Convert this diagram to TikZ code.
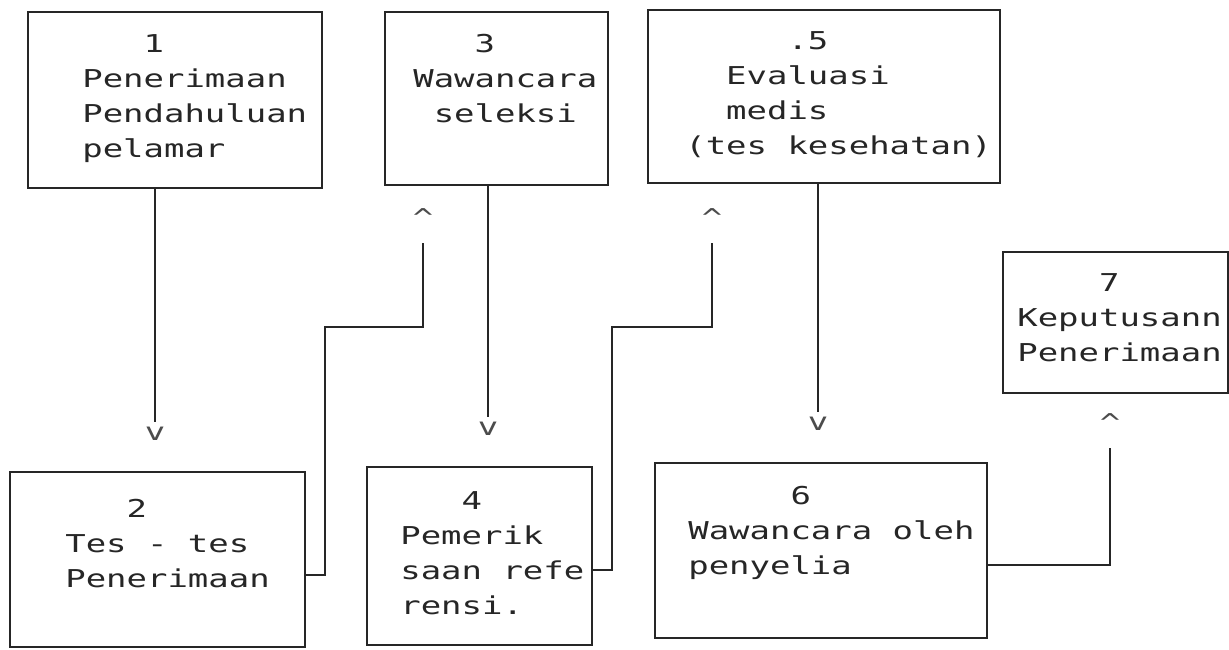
\documentclass[tikz,border=0pt]{standalone}
\usepackage{fontspec}
\usepackage{tikz}
\usetikzlibrary{positioning}
\newfontfamily\dotfont[FakeStretch=1.38]{DejaVu Sans Mono}

\begin{document}
\begin{tikzpicture}[
  box/.style={rectangle,draw=black!85,line width=1.2pt,inner sep=0pt},
  txt/.style={anchor=north west,inner sep=0pt,align=left,text=black!85,
    font=\dotfont\fontsize{14}{19.9}\selectfont},
  tip/.style={anchor=north,inner sep=0pt,text=black!70,
    font=\dotfont\fontsize{14}{19.9}\selectfont},
  wire/.style={draw=black!85,line width=1.2pt}]
\useasboundingbox (0,0) rectangle (24.58,-13);

% upper row
\node at ( 3.50,-2.00) [box,minimum width=5.88cm,minimum height=3.52cm] (b1) {};
\node at ( 9.93,-1.97) [box,minimum width=4.46cm,minimum height=3.46cm] (b3) {};
\node at (16.48,-1.93) [box,minimum width=7.04cm,minimum height=3.46cm] (b5) {};
\node at (22.31,-6.45) [box,minimum width=4.50cm,minimum height=2.82cm] (b7) {};

% lower row
\node at ( 3.15,-11.19) [box,minimum width=5.90cm,minimum height=3.50cm] (b2) {};
\node at ( 9.59,-11.12) [box,minimum width=4.50cm,minimum height=3.56cm] (b4) {};
\node at (16.42,-11.01) [box,minimum width=6.64cm,minimum height=3.50cm] (b6) {};

\node at ( 1.64,-0.68) [txt] (t1) {\hphantom{000}1\\Penerimaan\\Pendahuluan\\pelamar};
\node at ( 8.26,-0.68) [txt] (t3) {\hphantom{000}3\\Wawancara\\\hphantom{0}seleksi};
\node at (13.70,-0.62) [txt] (t5) {\hphantom{00000}.5\\\hphantom{00}Evaluasi\\\hphantom{00}medis\\(tes kesehatan)};
\node at (20.34,-5.46) [txt] (t7) {\hphantom{0000}7\\Keputusann\\Penerimaan};
\node at ( 1.30,-9.98) [txt] (t2) {\hphantom{000}2\\Tes - tes\\Penerimaan};
\node at ( 8.00,-9.82) [txt] (t4) {\hphantom{000}4\\Pemerik\\saan refe\\rensi.};
\node at (13.76,-9.72) [txt] (t6) {\hphantom{00000}6\\Wawancara oleh\\penyelia};

% typed arrow heads
\node at ( 3.10,-8.54) [tip] (v1) {v};
\node at ( 9.76,-8.44) [tip] (v3) {v};
\node at (16.36,-8.34) [tip] (v5) {v};
\node at ( 8.46,-4.16) [tip] (c2) {\textasciicircum};
\node at (14.24,-4.16) [tip] (c4) {\textasciicircum};
\node at (22.20,-8.26) [tip] (c6) {\textasciicircum};

\draw [wire,shorten >=0.1cm] (v1 |- b1.south) -- (v1.north);
\draw [wire,shorten >=0.1cm] (v3 |- b3.south) -- (v3.north);
\draw [wire,shorten >=0.1cm] (v5 |- b5.south) -- (v5.north);

\draw [wire,shorten >=0.32cm] (b2.east |- 0,-11.50) -| (6.50,-6.54) -| (c2.south);
\draw [wire,shorten >=0.32cm] (b4.east |- 0,-11.40) -| (12.24,-6.54) -| (c4.south);
\draw [wire,shorten >=0.32cm] (b6.east |- 0,-11.30) -| (c6.south);
\end{tikzpicture}
\end{document}
